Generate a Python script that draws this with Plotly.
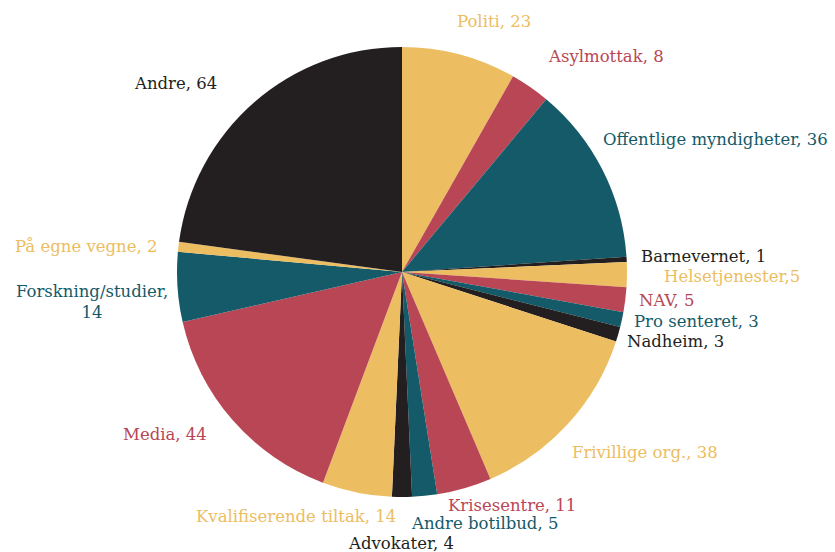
import plotly.graph_objects as go

labels = ["Politi", "Asylmottak", "Offentlige myndigheter", "Barnevernet", "Helsetjenester",
          "NAV", "Pro senteret", "Nadheim", "Frivillige org.", "Krisesentre", "Andre botilbud",
          "Advokater", "Kvalifiserende tiltak", "Media", "Forskning/studier", "På egne vegne", "Andre"]
values = [23, 8, 36, 1, 5, 5, 3, 3, 38, 11, 5, 4, 14, 44, 14, 2, 64]
label_texts = ["Politi, 23", "Asylmottak, 8", "Offentlige myndigheter, 36", "Barnevernet, 1",
               "Helsetjenester,5", "NAV, 5", "Pro senteret, 3", "Nadheim, 3", "Frivillige org., 38",
               "Krisesentre, 11", "Andre botilbud, 5", "Advokater, 4", "Kvalifiserende tiltak, 14",
               "Media, 44", "Forskning/studier,<br>14", "På egne vegne, 2", "Andre, 64"]

YEL, RED, TEAL, BLK = "#ECBD61", "#B84655", "#145A68", "#231F20"
colors = [YEL, RED, TEAL, BLK] * 3 + [YEL, RED, TEAL, YEL, BLK]
text_colors = colors

# label centre positions in pixels (x, y from top)
label_pos = [(494, 21), (606, 56), (715, 139), (703, 256), (732, 276), (667, 300), (696, 321),
             (675, 341), (645, 452), (512, 505), (484, 523), (401, 543), (296, 516), (165, 435),
             (92, 302), (86, 246), (175, 83)]

W, H = 835, 552
fig = go.Figure(go.Pie(
    labels=labels, values=values, sort=False, direction="clockwise", rotation=0,
    marker=dict(colors=colors, line=dict(width=0)),
    textinfo="none", hoverinfo="label+value", showlegend=False,
    domain=dict(x=[(402 - 225) / W, (402 + 225) / W], y=[1 - 497 / H, 1 - 47 / H]),
))

for t, c, (px, py) in zip(label_texts, text_colors, label_pos):
    fig.add_annotation(x=px / W, y=1 - py / H, xref="paper", yref="paper", text=t,
                       showarrow=False, xanchor="center", yanchor="middle",
                       font=dict(color=c, size=16.5, family="DejaVu Serif"))

fig.update_layout(width=W, height=H, margin=dict(l=0, r=0, t=0, b=0),
                  paper_bgcolor="white", plot_bgcolor="white",
                  font=dict(family="DejaVu Serif"))
fig.write_html("out.html", config={"displayModeBar": False},
               post_script="document.body.style.margin='0';document.body.style.overflow='hidden';")
